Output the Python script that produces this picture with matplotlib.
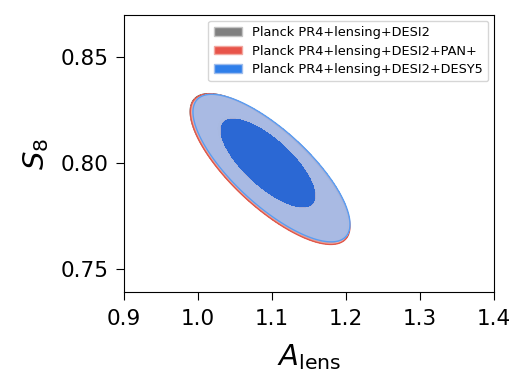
import numpy as np
import matplotlib
matplotlib.use("Agg")
import matplotlib.pyplot as plt
from matplotlib.patches import Patch

# contour shapes, per chain: [68% contour, 95% contour]
# centre (Alens, S8), half extent in Alens and S8, tilt (correlation)
labels = ["Planck PR4+lensing+DESI2",
          "Planck PR4+lensing+DESI2+PAN+",
          "Planck PR4+lensing+DESI2+DESY5"]
alens_centre = [[1.0930, 1.0960], [1.0945, 1.0975], [1.0946, 1.0993]]
s8_centre = [[0.8005, 0.7976], [0.8000, 0.7971], [0.8000, 0.7976]]
alens_half = [[0.0660, 0.1065], [0.0640, 0.1078], [0.0635, 0.1061]]
s8_half = [[0.0214, 0.0352], [0.0209, 0.0356], [0.0208, 0.0349]]
rho = [[-0.74, -0.76], [-0.74, -0.76], [-0.74, -0.76]]

inner_colors = ["#7a7a7a", "#E03424", "#1a5fd4"]
outer_colors = ["#c4c4c4", "#f2a8a0", "#a0bdec"]
line_colors = ["#6e6e6e", "#e0584a", "#5a9cf0"]
legend_colors = ["#808080", "#e8544a", "#2f7fea"]

fig = plt.figure(figsize=(5.29, 3.91), dpi=100)
ax = fig.add_axes([0.2344, 0.2532, 0.6994, 0.7084])

x = np.linspace(0.85, 1.45, 700)
y = np.linspace(0.72, 0.88, 700)
X, Y = np.meshgrid(x, y)


def shape(i, k):
    u = (X - alens_centre[i][k]) / alens_half[i][k]
    v = (Y - s8_centre[i][k]) / s8_half[i][k]
    r = rho[i][k]
    return (u**2 - 2 * r * u * v + v**2) / (1 - r**2)


for i in range(3):
    alpha = 1.0 if i == 0 else 0.88
    outer = shape(i, 1)
    inner = shape(i, 0)
    ax.contourf(X, Y, outer, levels=[-1, 1], colors=[outer_colors[i]],
                alpha=alpha, zorder=i * 2)
    ax.contourf(X, Y, inner, levels=[-1, 1], colors=[inner_colors[i]],
                alpha=alpha, zorder=i * 2 + 0.5)
    ax.contour(X, Y, outer, levels=[1], colors=[line_colors[i]],
               linewidths=1.0, zorder=i * 2 + 1)

ax.set_xlim(0.9, 1.4)
ax.set_ylim(0.739, 0.870)
ax.set_xticks([0.9, 1.0, 1.1, 1.2, 1.3, 1.4])
ax.set_yticks([0.75, 0.80, 0.85])
ax.tick_params(labelsize=15.5, length=6)
ax.tick_params(axis="y", pad=5)
ax.tick_params(axis="x", pad=6)
ax.set_xlabel(r"$A_{\rm lens}$", fontsize=21, labelpad=10)
ax.set_ylabel(r"$S_8$", fontsize=21, labelpad=7)

handles = [Patch(facecolor=legend_colors[i], edgecolor=outer_colors[i], lw=1.0)
           for i in range(3)]
ax.legend(handles, labels, loc="upper right", fontsize=9.3, frameon=True,
          handlelength=2.2, handleheight=0.65, borderaxespad=0.45,
          labelspacing=0.43)

fig.savefig("out.png", dpi=100)
